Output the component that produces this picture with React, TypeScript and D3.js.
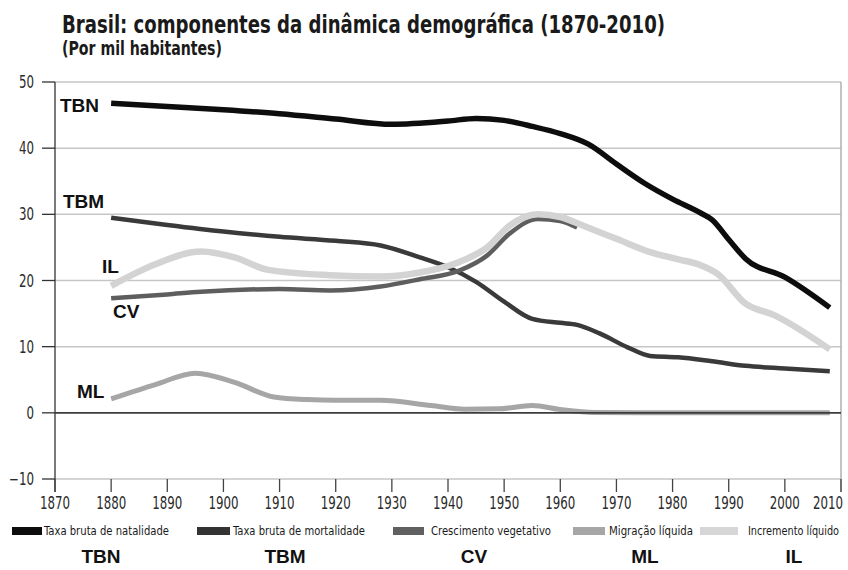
import * as d3 from "d3";

// dados (por mil habitantes)
const tbnYears = [1880, 1890, 1900, 1910, 1920, 1930, 1940, 1945, 1950, 1955, 1960, 1965, 1970, 1975, 1980, 1985, 1987, 1990, 1993, 2000, 2008];
const tbnValues = [46.8, 46.3, 45.8, 45.2, 44.4, 43.6, 44.1, 44.5, 44.2, 43.3, 42.2, 40.6, 37.6, 34.7, 32.3, 30.2, 29.2, 26.2, 23.3, 20.5, 15.9];

const tbmYears = [1880, 1890, 1900, 1910, 1920, 1928, 1935, 1940, 1945, 1950, 1955, 1960, 1963, 1967, 1972, 1976, 1981, 1987, 1993, 2000, 2008];
const tbmValues = [29.5, 28.4, 27.4, 26.6, 26.0, 25.3, 23.5, 22.0, 19.8, 16.8, 14.2, 13.6, 13.3, 12.0, 9.9, 8.6, 8.4, 7.8, 7.1, 6.7, 6.3];

const cvYears = [1880, 1890, 1896, 1910, 1919, 1928, 1935, 1942, 1947, 1951, 1956, 1960, 1963];
const cvValues = [17.3, 17.9, 18.3, 18.7, 18.5, 19.1, 20.2, 21.5, 23.8, 27.1, 29.3, 29.0, 28.0];

const mlYears = [1880, 1888, 1895, 1902, 1909, 1915, 1920, 1928, 1937, 1943, 1949, 1955, 1960, 1966, 1975, 2008];
const mlValues = [2.1, 4.3, 6.0, 4.6, 2.4, 2.0, 1.9, 1.9, 1.1, 0.55, 0.6, 1.1, 0.5, 0.05, 0, 0];

const ilYears = [1880, 1888, 1896, 1902, 1908, 1919, 1928, 1935, 1942, 1947, 1951, 1956, 1960, 1964, 1970, 1976, 1981, 1985, 1988, 1993, 1998, 2008];
const ilValues = [19.2, 22.5, 24.4, 23.5, 21.6, 20.8, 20.6, 21.2, 22.8, 25.0, 28.3, 30.0, 29.6, 28.3, 26.3, 24.3, 23.2, 22.3, 21.0, 16.5, 14.8, 9.6];

const yTicks = [-10, 0, 10, 20, 30, 40, 50];
const xTicks = d3.range(1870, 2011, 10);

const legendLabels = ["Taxa bruta de natalidade", "Taxa bruta de mortalidade", "Crescimento vegetativo", "Migração líquida", "Incremento líquido"];
const abbrevs = ["TBN", "TBM", "CV", "ML", "IL"];

const W = 848;
const H = 570;
const condensed = "'DejaVu Sans Condensed', 'Liberation Sans Narrow', 'DejaVu Sans', sans-serif";
const arial = "'Liberation Sans', Arial, sans-serif";

export default function App() {
  const x = d3.scaleLinear().domain([1870, 2010]).range([55, 841]);
  const y = d3.scaleLinear().domain([-10, 50]).range([479, 82]);

  const line = d3
    .line<[number, number]>()
    .x((d) => x(d[0]))
    .y((d) => y(d[1]))
    .curve(d3.curveMonotoneX);

  const path = (yrs: number[], vals: number[]) => line(yrs.map((yr, i) => [yr, vals[i]]) as [number, number][]) || "";

  // ordem de desenho: ML, TBM, CV, IL, TBN
  const series = [
    { key: "ML", d: path(mlYears, mlValues), color: "#a6a6a6", w: 5 },
    { key: "TBM", d: path(tbmYears, tbmValues), color: "#3a3a3a", w: 4.5 },
    { key: "CV", d: path(cvYears, cvValues), color: "#5e5e5e", w: 4.5 },
    { key: "IL", d: path(ilYears, ilValues), color: "#d3d3d3", w: 6.5 },
    { key: "TBN", d: path(tbnYears, tbnValues), color: "#0d0d0d", w: 5.5 },
  ];

  const legendColors = ["#0d0d0d", "#333333", "#606060", "#a6a6a6", "#d6d6d6"];
  const legendSw = [[12, 42], [197, 230], [393, 424], [573, 605], [700, 738]];
  const legendTx = [[44, 125], [233, 132], [431, 120], [609, 84], [748, 91]];
  const abbrevX = [101, 285, 474, 645, 794];

  // rótulos dentro do gráfico
  const inLabels = [
    { t: "TBN", x: 60, y: 112 },
    { t: "TBM", x: 63, y: 208 },
    { t: "IL", x: 102, y: 273 },
    { t: "CV", x: 113, y: 318 },
    { t: "ML", x: 77, y: 398 },
  ];

  return (
    <svg width={W} height={H} style={{ position: "absolute", left: 0, top: 0, background: "#fff" }}>
      <text x={62} y={33} fontFamily={condensed} fontWeight="bold" fontSize={25} fill="#1a1a1a" textLength={603} lengthAdjust="spacingAndGlyphs">
        Brasil: componentes da dinâmica demográfica (1870-2010)
      </text>
      <text x={62} y={55} fontFamily={condensed} fontWeight="bold" fontSize={19} fill="#1a1a1a" textLength={160} lengthAdjust="spacingAndGlyphs">
        (Por mil habitantes)
      </text>

      {/* grade */}
      {yTicks.filter((t) => t !== 0).map((t) => (
        <line key={t} x1={x(1870)} x2={x(2010)} y1={y(t)} y2={y(t)} stroke="#c6c6c6" strokeWidth={1.5} />
      ))}
      <line x1={x(2010)} x2={x(2010)} y1={y(50)} y2={y(-10) + 13} stroke="#b0b0b0" strokeWidth={1.5} />

      {/* eixo y */}
      <line x1={x(1870)} x2={x(1870)} y1={y(50)} y2={y(-10) + 13} stroke="#333" strokeWidth={1.3} />
      {yTicks.map((t) => (
        <g key={t}>
          <line x1={42} x2={x(1870)} y1={y(t)} y2={y(t)} stroke="#333" strokeWidth={1.3} />
          <text x={34} y={y(t) + 6} textAnchor="end" fontFamily={condensed} fontSize={17} fill="#2a2a2a"
            textLength={t < 0 ? 25 : String(t).length * 7.5} lengthAdjust="spacingAndGlyphs">
            {t < 0 ? "\u2212" + Math.abs(t) : t}
          </text>
        </g>
      ))}

      {/* eixo x */}
      {xTicks.map((t) => (
        <g key={t}>
          <line x1={x(t)} x2={x(t)} y1={y(-10)} y2={y(-10) + 13} stroke="#444" strokeWidth={1.3} />
          <text x={t === 2010 ? 843 : x(t)} y={509} textAnchor={t === 2010 ? "end" : "middle"} fontFamily={condensed} fontSize={17} fill="#2a2a2a" textLength={30} lengthAdjust="spacingAndGlyphs">
            {t}
          </text>
        </g>
      ))}

      {series.map((s) => (
        <g key={s.key}>
          <path d={s.d} fill="none" stroke={s.color} strokeWidth={s.w} strokeLinecap="butt" />
          {s.key === "ML" && (
            <line x1={x(1870)} x2={x(2010)} y1={y(0)} y2={y(0)} stroke="#3c3c3c" strokeWidth={1.6} />
          )}
        </g>
      ))}

      {inLabels.map((l) => (
        <text key={l.t} x={l.x} y={l.y} fontFamily={arial} fontWeight="bold" fontSize={19} fill="#111">
          {l.t}
        </text>
      ))}

      {/* legenda */}
      {legendLabels.map((lab, i) => (
        <g key={lab}>
          <rect x={legendSw[i][0]} y={527} width={legendSw[i][1] - legendSw[i][0]} height={8} fill={legendColors[i]} />
          <text x={legendTx[i][0]} y={535} fontFamily={condensed} fontSize={13} fill="#1a1a1a" textLength={legendTx[i][1]} lengthAdjust="spacingAndGlyphs">
            {lab}
          </text>
          <text x={abbrevX[i]} y={563} textAnchor="middle" fontFamily={arial} fontWeight="bold" fontSize={19} fill="#111">
            {abbrevs[i]}
          </text>
        </g>
      ))}
    </svg>
  );
}
